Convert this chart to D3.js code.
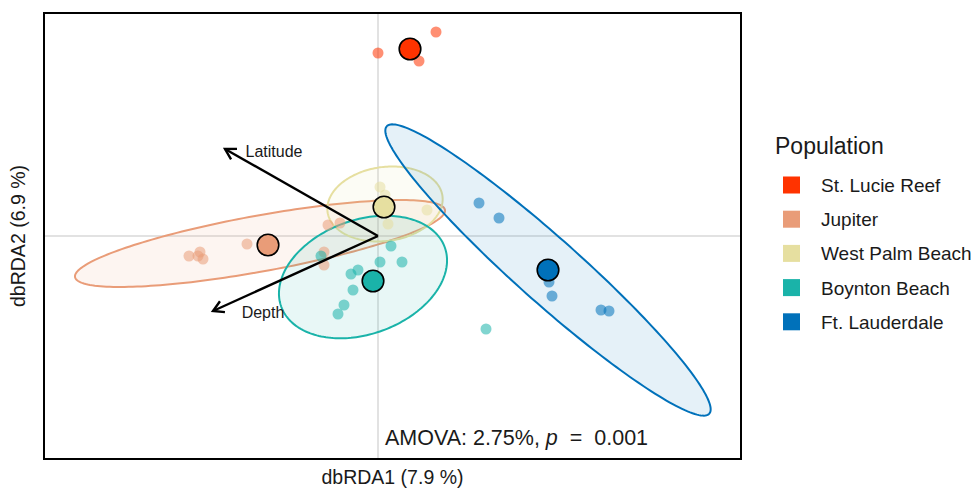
<!DOCTYPE html>
<html><head><meta charset="utf-8">
<script src="https://cdn.jsdelivr.net/npm/d3@7"></script>
<style>body{margin:0;background:#fff;} text{font-family:"Liberation Sans",Arial,sans-serif;fill:#1a1a1a;}</style>
</head><body><svg id="chart" width="978" height="488"></svg>
<script>
// ---------------- data ----------------
const populations = ["St. Lucie Reef","Jupiter","West Palm Beach","Boynton Beach","Ft. Lauderdale"];
const popColors = ["#FF3300","#E99C78","#E6DFA0","#1AB3A9","#0071BA"];

// individual samples (dbRDA scores)
const samplePop = [
  "St. Lucie Reef","St. Lucie Reef","St. Lucie Reef",
  "Jupiter","Jupiter","Jupiter","Jupiter","Jupiter","Jupiter","Jupiter","Jupiter","Jupiter",
  "West Palm Beach","West Palm Beach","West Palm Beach","West Palm Beach",
  "Boynton Beach","Boynton Beach","Boynton Beach","Boynton Beach","Boynton Beach","Boynton Beach","Boynton Beach","Boynton Beach","Boynton Beach","Boynton Beach",
  "Ft. Lauderdale","Ft. Lauderdale","Ft. Lauderdale","Ft. Lauderdale","Ft. Lauderdale","Ft. Lauderdale"
];
const sampleX = [0.00,0.58,0.41,
  -1.31,-1.89,-1.78,-1.80,-1.75,-0.50,-0.38,-0.54,-0.54,
  0.02,0.07,0.49,0.10,
  0.13,0.02,0.24,-0.27,-0.20,-0.25,-0.34,-0.40,-0.57,1.08,
  1.01,1.21,1.71,1.74,2.23,2.31];
const sampleY = [1.83,2.04,1.75,
  -0.08,-0.20,-0.16,-0.20,-0.23,0.11,0.13,-0.16,-0.29,
  0.49,0.41,0.26,0.12,
  -0.10,-0.26,-0.26,-0.38,-0.34,-0.54,-0.69,-0.78,-0.20,-0.93,
  0.33,0.18,-0.46,-0.60,-0.74,-0.75];

// population centroids
const centroidX = [0.32,-1.10,0.06,-0.05,1.70];
const centroidY = [1.87,-0.09,0.29,-0.45,-0.34];

// 95% ellipses (centre, semi-axes, rotation in degrees)
const ellipsePop = ["Jupiter","West Palm Beach","Boynton Beach","Ft. Lauderdale"];
const ellipseCX = [-1.18,0.07,-0.15,1.70];
const ellipseCY = [-0.075,0.32,-0.41,-0.34];
const ellipseA = [1.88,0.58,0.87,2.16];
const ellipseB = [0.28,0.37,0.57,0.32];
const ellipseAngle = [10.3,8,20,-41.7];

// environmental vectors
const vectorNames = ["Latitude","Depth"];
const vectorX = [-1.53,-1.65];
const vectorY = [0.87,-0.75];
const vectorLabelX = [-1.04,-1.15];
const vectorLabelY = [0.85,-0.76];

const xDomain = [-3.34,3.63];
const yDomain = [-2.23,2.23];
const xTitle = "dbRDA1 (7.9 %)";
const yTitle = "dbRDA2 (6.9 %)";
const legendTitle = "Population";

// ---------------- drawing ----------------
const svg = d3.select("#chart");
const panel = {l:44, t:13, r:741, b:459};
const x = d3.scaleLinear().domain(xDomain).range([panel.l, panel.r]);
const y = d3.scaleLinear().domain(yDomain).range([panel.b, panel.t]);
const color = d3.scaleOrdinal().domain(populations).range(popColors);

svg.append("defs").append("clipPath").attr("id","clip")
  .append("rect").attr("x",panel.l).attr("y",panel.t)
  .attr("width",panel.r-panel.l).attr("height",panel.b-panel.t);

const g = svg.append("g").attr("clip-path","url(#clip)");

// zero lines
g.append("line").attr("x1",x(0)).attr("x2",x(0)).attr("y1",panel.t).attr("y2",panel.b)
  .attr("stroke","#E2E2E2").attr("stroke-width",2);
g.append("line").attr("x1",panel.l).attr("x2",panel.r).attr("y1",y(0)).attr("y2",y(0))
  .attr("stroke","#E2E2E2").attr("stroke-width",2);

// ellipses
const line = d3.line().x(d=>x(d[0])).y(d=>y(d[1])).curve(d3.curveLinearClosed);
ellipsePop.forEach((p,i)=>{
  const th = ellipseAngle[i]*Math.PI/180;
  const pts = d3.range(0,200).map(k=>{
    const t = k/200*2*Math.PI;
    const ex = ellipseA[i]*Math.cos(t), ey = ellipseB[i]*Math.sin(t);
    return [ellipseCX[i] + ex*Math.cos(th) - ey*Math.sin(th),
            ellipseCY[i] + ex*Math.sin(th) + ey*Math.cos(th)];
  });
  g.append("path").attr("d",line(pts))
    .attr("fill",color(p)).attr("fill-opacity",0.1)
    .attr("stroke",color(p)).attr("stroke-width",2);
});

// samples
g.selectAll("circle.sample").data(sampleX.map((v,i)=>i)).enter().append("circle")
  .attr("class","sample")
  .attr("cx",i=>x(sampleX[i])).attr("cy",i=>y(sampleY[i])).attr("r",5.5)
  .attr("fill",i=>color(samplePop[i])).attr("fill-opacity",0.55);

// centroids
g.selectAll("circle.cent").data(populations).enter().append("circle")
  .attr("class","cent")
  .attr("cx",(d,i)=>x(centroidX[i])).attr("cy",(d,i)=>y(centroidY[i])).attr("r",10.8)
  .attr("fill",d=>color(d)).attr("stroke","#000").attr("stroke-width",1.6);

// vectors
vectorNames.forEach((nm,i)=>{
  const x0=x(0), y0=y(0), x1=x(vectorX[i]), y1=y(vectorY[i]);
  g.append("line").attr("x1",x0).attr("y1",y0).attr("x2",x1).attr("y2",y1)
    .attr("stroke","#000").attr("stroke-width",2.4);
  const ang = Math.atan2(y0-y1, x0-x1);
  const L = 12, a = Math.PI/6;
  const p1 = [x1+L*Math.cos(ang+a), y1+L*Math.sin(ang+a)];
  const p2 = [x1+L*Math.cos(ang-a), y1+L*Math.sin(ang-a)];
  g.append("path").attr("d",`M${p1[0]},${p1[1]}L${x1},${y1}L${p2[0]},${p2[1]}`)
    .attr("fill","none").attr("stroke","#000").attr("stroke-width",2.4)
    .attr("stroke-linejoin","miter");
  g.append("text").attr("x",x(vectorLabelX[i])).attr("y",y(vectorLabelY[i]))
    .attr("text-anchor","middle").attr("dominant-baseline","central")
    .attr("font-size",16).text(nm);
});

// AMOVA annotation
const am = g.append("text").attr("x",x(1.385)).attr("y",y(-2.09))
  .attr("text-anchor","middle").attr("font-size",21.5).style("white-space","pre");
am.append("tspan").text("AMOVA: 2.75%, ");
am.append("tspan").attr("font-style","italic").text("p");
am.append("tspan").text("  =  0.001");

// panel border
svg.append("rect").attr("x",panel.l).attr("y",panel.t)
  .attr("width",panel.r-panel.l).attr("height",panel.b-panel.t)
  .attr("fill","none").attr("stroke","#000").attr("stroke-width",2);

// axis titles
svg.append("text").attr("x",(panel.l+panel.r)/2).attr("y",484)
  .attr("text-anchor","middle").attr("font-size",19.5).text(xTitle);
svg.append("text").attr("transform",`translate(25,${(panel.t+panel.b)/2}) rotate(-90)`)
  .attr("text-anchor","middle").attr("font-size",19.5).text(yTitle);

// legend
const lg = svg.append("g");
lg.append("text").attr("x",775).attr("y",154).attr("font-size",23).text(legendTitle);
populations.forEach((p,i)=>{
  const cy = 185 + i*34.2;
  lg.append("rect").attr("x",783).attr("y",cy-8.5).attr("width",17).attr("height",17)
    .attr("fill",color(p));
  lg.append("text").attr("x",821).attr("y",cy+7).attr("font-size",19).text(p);
});
</script></body></html>
